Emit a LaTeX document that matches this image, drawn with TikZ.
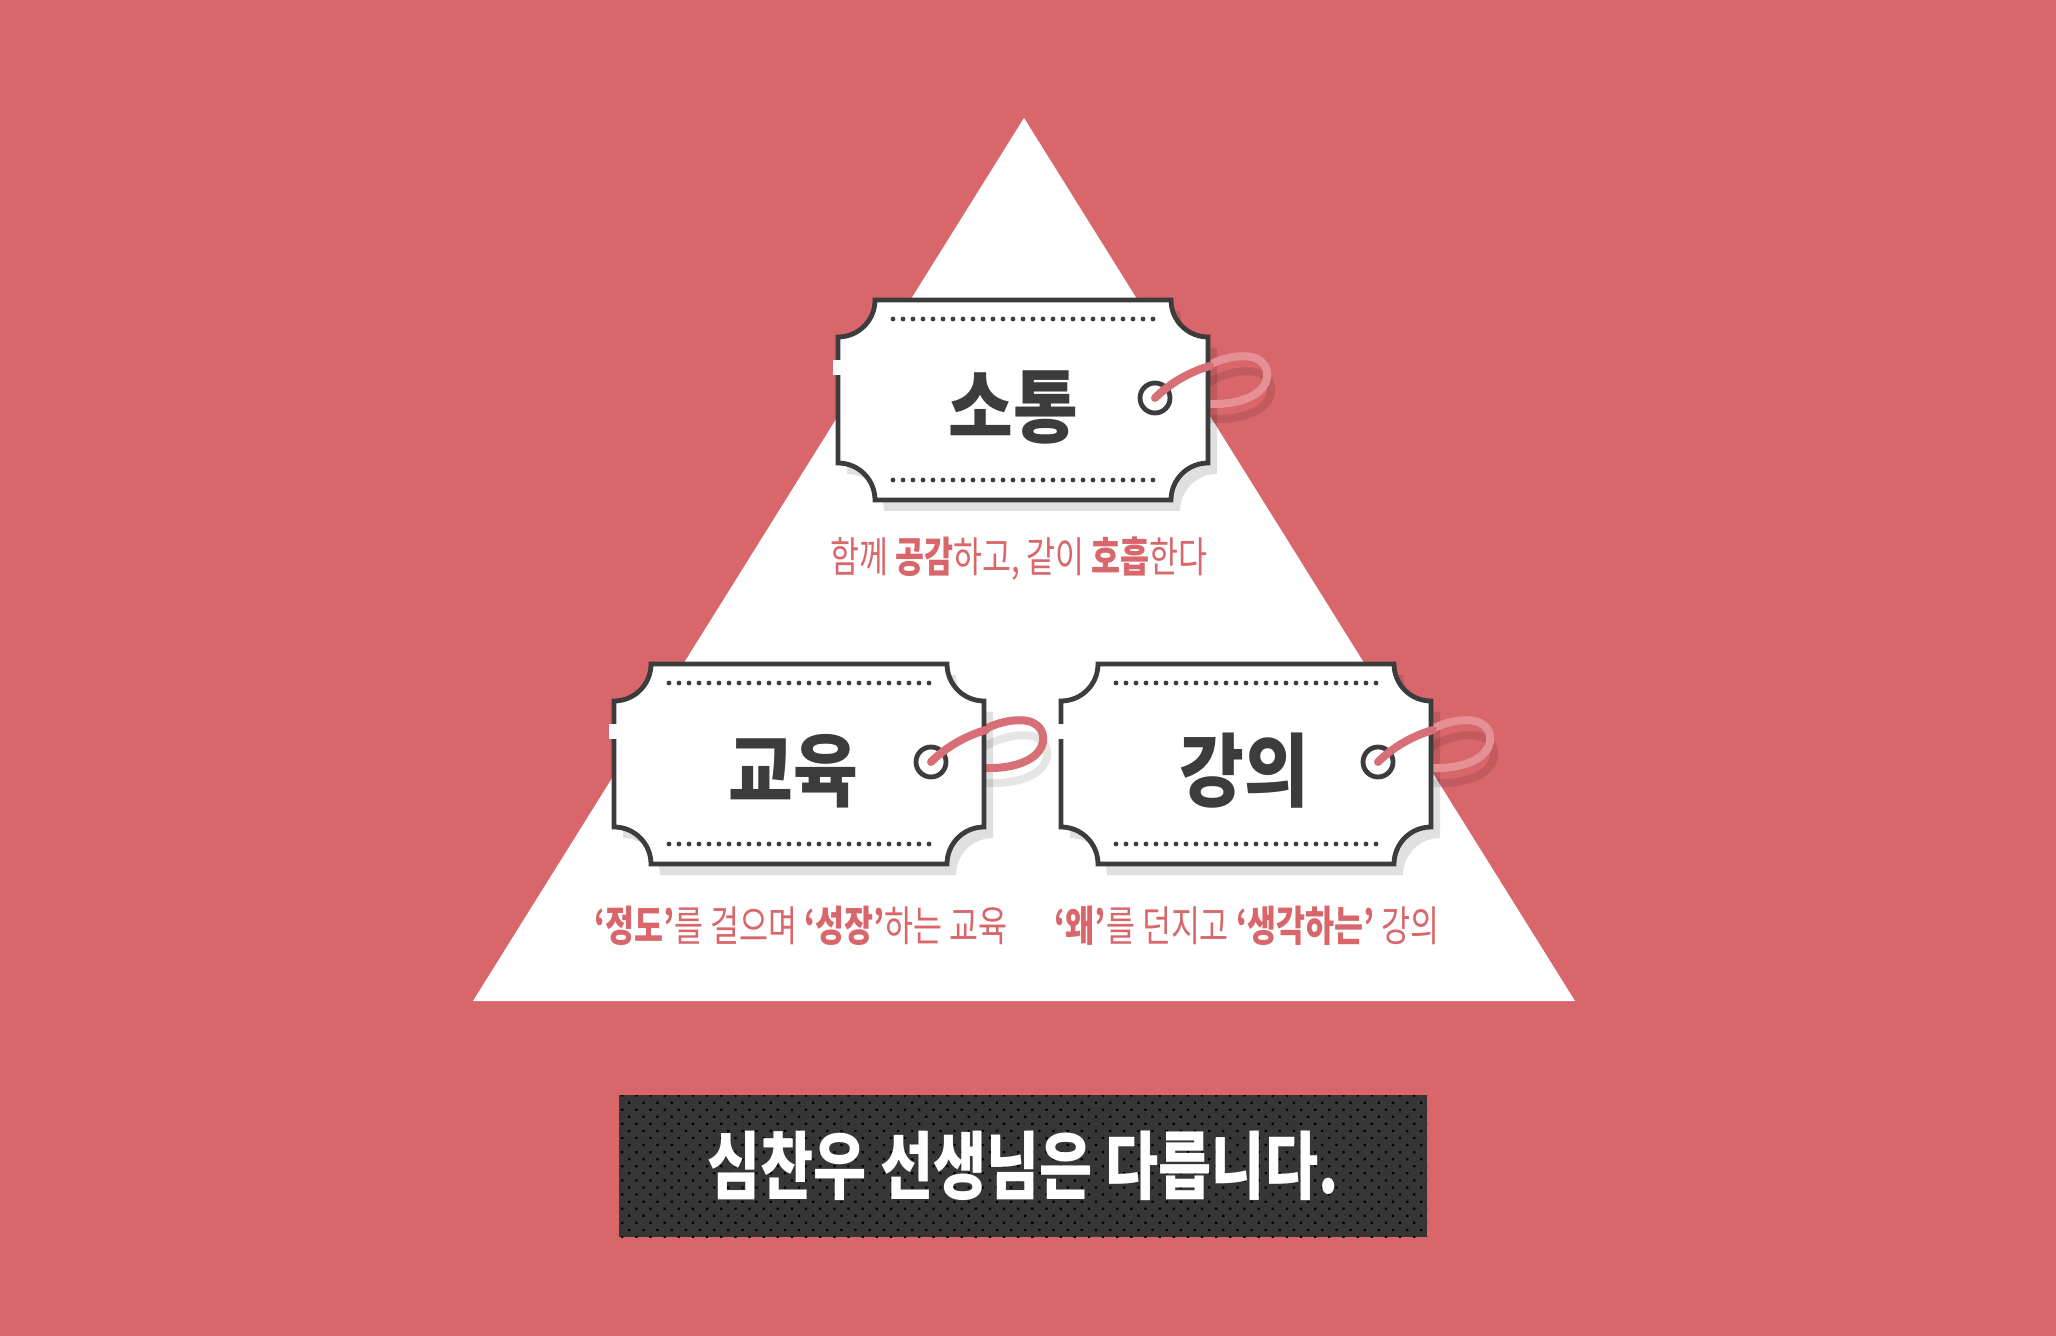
\documentclass[tikz,border=0pt]{standalone}
\usepackage{fontspec}
\usepackage{tikz}
\usetikzlibrary{patterns.meta}
\newfontfamily\krtitle[FakeStretch=0.88]{Noto Sans CJK KR}
\newfontfamily\krsub[FakeStretch=0.75]{Noto Sans CJK KR}
\newfontfamily\krbanner[FakeStretch=0.78]{Noto Sans CJK KR}
\definecolor{bgred}{HTML}{D9666A}
\definecolor{inkgray}{HTML}{3C3C3C}
\definecolor{strpink}{HTML}{D86F76}
\definecolor{looplight}{HTML}{E59095}
\definecolor{banbg}{HTML}{363636}
% 札の形
\def\ticketpath{(-148,-100) -- (148,-100) arc[start angle=180,end angle=90,radius=37]
  -- (185,63) arc[start angle=270,end angle=180,radius=37]
  -- (-148,100) arc[start angle=0,end angle=-90,radius=37]
  -- (-185,-63) arc[start angle=90,end angle=0,radius=37] -- cycle}

\begin{document}
\begin{tikzpicture}[x=0.5pt,y=-0.5pt,
    ticketline/.style={draw=inkgray,line width=2.4pt,fill=white},
    ticketshadow/.style={fill=black,opacity=0.12},
    dotrow/.style={inkgray,line width=2.4pt,line cap=round,dash pattern=on 0pt off 5pt},
    holering/.style={circle,draw=inkgray,line width=2.4pt,fill=white,minimum size=15pt,inner sep=0pt},
    tagstring/.style={line width=4pt,line cap=round},
    tagtitle/.style={text=inkgray,font=\krtitle\bfseries\fontsize{40}{40}\selectfont},
    subline/.style={text=bgred,font=\krsub\fontsize{21}{21}\selectfont},
    banner/.style={fill=banbg,postaction={pattern={Dots[distance=5pt,angle=45,radius=0.8pt]},pattern color=black},
      minimum width=404pt,minimum height=71pt,text=white,font=\krbanner\bfseries\fontsize{37}{37}\selectfont}]
    % 背景
    \fill[bgred] (0,0) rectangle (2056,1336);
    \fill[white] (1024,118) -- (1575,1001) -- (473,1001) -- cycle;
    % 札
    \foreach \nm/\cx/\cy/\tx/\txt/\lc in {top/1023/400/-10/소통/looplight, left/799/764/-6/교육/strpink, right/1246/764/-2/강의/looplight}{
      \begin{scope}[shift={(\cx,\cy)}]
        \fill[ticketshadow,shift={(9,11)}] \ticketpath;
        \begin{scope}[shift={(132,-2)}]
          \draw[tagstring,black,opacity=0.1] (46,-11) .. controls (64,-23) and (84,-29) .. (101,-26) .. controls (117,-22) and (120,-7) .. (112,4) .. controls (104,15) and (84,21) .. (64,21) -- (46,21);
          \draw[tagstring,\lc] (42,-26) .. controls (60,-38) and (80,-44) .. (97,-41) .. controls (113,-37) and (116,-22) .. (108,-11) .. controls (100,0) and (80,6) .. (60,6) -- (42,6);
        \end{scope}
        \filldraw[ticketline] \ticketpath;
        \fill[white] (-190,-40) rectangle (-180,-25);
        \draw[dotrow] (-130,-81) -- (130,-81);
        \draw[dotrow] (-130,80) -- (130,80);
        \node[tagtitle] (\nm-title) at (\tx,7) {\txt};
        \node[holering] (\nm-hole) at (132,-2) {};
        \draw[tagstring,strpink] (\nm-hole.center) .. controls +(16,-16) and +(-18,5) .. ++(55,-32);
      \end{scope}
    }
    % 説明
    \node[subline] (sub-top) at (1019,559) {함께 \textbf{공감}하고, 같이 \textbf{호흡}한다};
    \node[subline] (sub-left) at (801,926) {\textbf{‘정도’}를 걸으며 \textbf{‘성장’}하는 교육};
    \node[subline] (sub-right) at (1247,926) {\textbf{‘왜’}를 던지고 \textbf{‘생각하는’} 강의};
    % 帯
    \node[banner] (banner) at (1023,1166) {심찬우 선생님은 다릅니다.};
\end{tikzpicture}
\end{document}
